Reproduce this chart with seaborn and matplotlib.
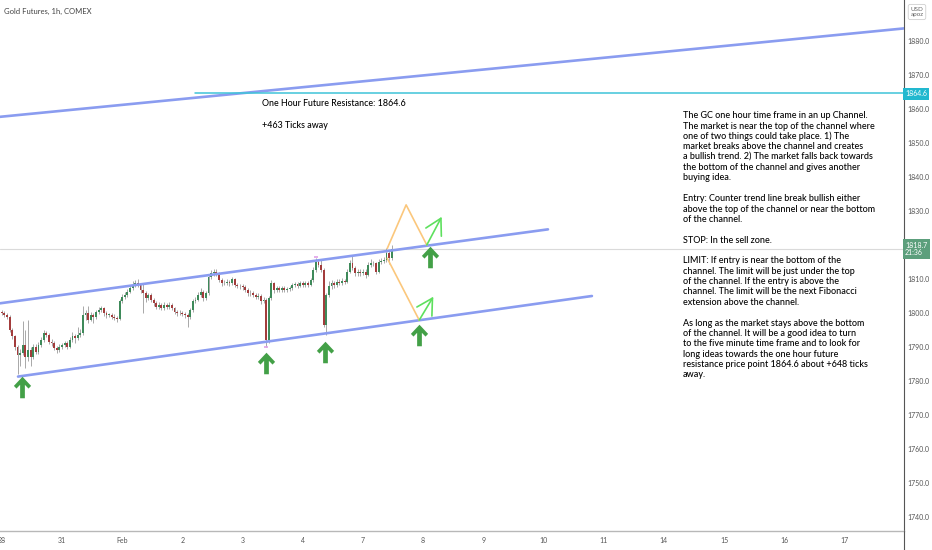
import numpy as np
import pandas as pd
import matplotlib
matplotlib.use("Agg")
import matplotlib.pyplot as plt
import seaborn as sns
from matplotlib.path import Path
from matplotlib.transforms import Affine2D
from matplotlib.lines import Line2D

# ---------------- data ----------------
day_labels = ['28', '31', 'Feb', '2', '3', '4', '7', '8', '9', '10', '11', '14', '15', '16', '17']
bars_per_day = 23

first_open = 1800.3
closes = [1799.9, 1799.4, 1798.9, 1795.0, 1793.1, 1790.1, 1787.7, 1788.2, 1790.6, 1787.2,
          1789.1, 1787.2, 1790.1, 1788.6, 1790.6, 1792.1, 1794.0, 1793.6, 1791.6, 1791.1,
          1789.6, 1789.1, 1790.1, 1790.6, 1791.1, 1790.1, 1792.1, 1793.1, 1792.6, 1793.6,
          1794.0, 1799.4, 1799.9, 1798.0, 1799.4, 1798.9, 1800.4, 1800.9, 1801.4, 1799.9,
          1799.4, 1799.4, 1798.9, 1798.5, 1798.2, 1803.4, 1804.8, 1805.3, 1806.3, 1807.3,
          1808.2, 1808.7, 1808.2, 1806.8, 1805.8, 1804.3, 1805.3, 1803.9, 1802.9, 1801.9,
          1802.4, 1801.4, 1802.4, 1801.9, 1802.4, 1801.4, 1800.4, 1799.9, 1800.1, 1799.7,
          1799.4, 1798.9, 1800.9, 1803.4, 1803.9, 1805.3, 1806.3, 1804.3, 1805.8, 1810.7,
          1811.7, 1812.2, 1811.7, 1809.7, 1808.7, 1808.9, 1809.2, 1808.7, 1809.9, 1808.2,
          1808.0, 1807.8, 1807.6, 1806.8, 1805.8, 1806.0, 1805.3, 1804.8, 1805.0, 1803.4,
          1803.9, 1792.1, 1804.3, 1808.7, 1806.8, 1807.3, 1806.8, 1807.3, 1806.8, 1807.0,
          1807.3, 1808.2, 1808.5, 1808.0, 1808.7, 1808.2, 1808.7, 1808.2, 1809.7, 1812.7,
          1815.1, 1814.1, 1812.7, 1796.5, 1805.3, 1807.8, 1808.7, 1808.2, 1809.2, 1808.9,
          1809.5, 1809.2, 1812.2, 1814.6, 1813.2, 1811.7, 1812.2, 1811.7, 1812.2, 1811.2,
          1814.1, 1814.8, 1814.6, 1812.2, 1815.1, 1815.4, 1815.6, 1817.6, 1816.1, 1818.7]
highs = [1801.0, 1800.6, 1800.0, 1799.3, 1795.6, 1793.6, 1790.6, 1789.5, 1797.6, 1795.0,
         1798.0, 1790.0, 1791.0, 1791.0, 1791.4, 1792.8, 1795.0, 1794.8, 1794.2, 1792.4,
         1791.8, 1790.3, 1790.8, 1791.3, 1791.9, 1791.8, 1792.9, 1794.5, 1793.8, 1796.0,
         1795.2, 1802.0, 1801.0, 1802.2, 1800.2, 1800.0, 1801.0, 1801.8, 1802.1, 1801.9,
         1800.5, 1800.1, 1800.0, 1799.6, 1799.2, 1804.0, 1805.6, 1806.2, 1807.0, 1808.1,
         1809.3, 1809.6, 1809.9, 1808.8, 1808.5, 1806.4, 1806.0, 1805.9, 1804.4, 1803.4,
         1803.1, 1803.0, 1803.2, 1803.0, 1803.1, 1802.9, 1801.9, 1801.0, 1800.8, 1800.7,
         1800.3, 1800.0, 1801.6, 1804.1, 1804.8, 1806.2, 1807.4, 1806.9, 1806.5, 1811.5,
         1812.6, 1813.0, 1812.8, 1812.0, 1810.3, 1809.6, 1810.0, 1809.8, 1810.6, 1810.4,
         1808.9, 1808.6, 1808.4, 1808.1, 1807.4, 1806.8, 1806.6, 1805.9, 1805.8, 1805.5,
         1804.6, 1804.5, 1805.0, 1809.6, 1809.2, 1808.0, 1807.9, 1808.0, 1807.9, 1807.7,
         1808.0, 1808.9, 1809.2, 1809.1, 1809.4, 1809.3, 1809.4, 1809.3, 1810.4, 1813.5,
         1816.3, 1816.0, 1815.6, 1813.3, 1806.0, 1809.5, 1809.6, 1809.5, 1810.0, 1809.9,
         1810.3, 1810.1, 1813.0, 1815.6, 1817.2, 1813.8, 1812.9, 1812.8, 1812.9, 1812.8,
         1814.9, 1815.8, 1815.4, 1815.1, 1815.9, 1816.2, 1816.4, 1819.0, 1818.6, 1820.0]
lows = [1799.3, 1798.8, 1798.2, 1794.5, 1792.4, 1789.0, 1782.2, 1784.5, 1787.5, 1783.8,
        1786.0, 1784.5, 1786.5, 1787.8, 1788.0, 1790.0, 1791.5, 1792.8, 1791.0, 1790.3,
        1789.0, 1788.2, 1788.6, 1789.5, 1790.0, 1789.4, 1789.8, 1791.5, 1791.2, 1792.0,
        1792.8, 1793.5, 1798.0, 1797.2, 1797.5, 1797.0, 1798.3, 1799.8, 1800.2, 1799.2,
        1798.6, 1798.7, 1798.2, 1797.8, 1797.4, 1797.9, 1802.8, 1804.2, 1804.8, 1805.8,
        1806.9, 1807.6, 1807.5, 1806.0, 1799.9, 1803.2, 1803.8, 1803.2, 1802.2, 1801.2,
        1801.3, 1800.8, 1800.9, 1801.2, 1801.2, 1800.8, 1799.7, 1799.2, 1799.3, 1799.0,
        1798.6, 1795.8, 1798.2, 1800.4, 1802.8, 1803.4, 1804.8, 1803.6, 1803.8, 1805.3,
        1810.0, 1811.0, 1810.9, 1809.0, 1808.0, 1808.1, 1808.3, 1808.0, 1808.2, 1807.6,
        1807.3, 1807.1, 1806.9, 1806.1, 1805.1, 1805.1, 1804.6, 1804.0, 1804.1, 1802.6,
        1802.9, 1790.1, 1791.2, 1803.8, 1806.0, 1806.2, 1806.1, 1806.2, 1806.1, 1806.2,
        1806.4, 1806.8, 1807.7, 1807.4, 1807.5, 1807.6, 1807.7, 1807.6, 1807.8, 1809.2,
        1812.2, 1813.5, 1812.0, 1796.0, 1793.5, 1804.6, 1807.0, 1807.4, 1807.6, 1808.2,
        1808.3, 1808.5, 1808.8, 1811.7, 1812.5, 1811.0, 1811.0, 1811.0, 1811.1, 1810.4,
        1810.8, 1813.6, 1813.9, 1811.5, 1811.8, 1814.5, 1814.8, 1815.0, 1814.5, 1815.5]

# drawings (bar index, price)
long_line = [(-0.7, 1857.7), (350.0, 1884.1)]
channel_top = [(-0.7, 1802.85), (208.7, 1824.6)]
channel_bottom = [(6.2, 1781.3), (225.5, 1805.0)]
resistance_price = 1864.6
resistance_start = 73.8
orange_up = [(147.3, 1819.0), (154.5, 1831.8), (162.4, 1820.0)]
orange_down = [(147.3, 1816.1), (159.5, 1797.9)]
light_arrows = [((162.4, 1820.0), (168.1, 1828.3)), ((159.5, 1797.9), (164.9, 1804.8))]
up_arrow_tips = [(7.6, 1781.3), (100.8, 1788.1), (123.5, 1791.6), (159.5, 1796.5), (163.6, 1819.5)]
hi_marker = (120, 1816.4)
lo_marker = (101, 1790.0)
last_price = 1818.7
last_time = '21:36'
y_ticks = [1740, 1750, 1760, 1770, 1780, 1790, 1800, 1810, 1830, 1840, 1850, 1860, 1870, 1880]

note_lines = [
    "The GC one hour time frame in an up Channel.",
    "The market is near the top of the channel where",
    "one of two things could take place. 1) The",
    "market breaks above the channel and creates",
    "a bullish trend. 2) The market falls back towards",
    "the bottom of the channel and gives another",
    "buying idea.",
    "",
    "Entry: Counter trend line break bullish either",
    "above the top of the channel or near the bottom",
    "of the channel.",
    "",
    "STOP: In the sell zone.",
    "",
    "LIMIT: If entry is near the bottom of the",
    "channel. The limit will be just under the top",
    "of the channel. If the entry is above the",
    "channel. The limit will be the next Fibonacci",
    "extension above the channel.",
    "",
    "As long as the market stays above the bottom",
    "of the channel. It will be a good idea to turn",
    "to the five minute time frame and to look for",
    "long ideas towards the one hour future",
    "resistance price point 1864.6 about +648 ticks",
    "away.",
]

# ---------------- figure ----------------
sns.set_theme(style="white")
plt.rcParams['font.family'] = ['Lato', 'DejaVu Sans']

W, H = 932, 550
fig = plt.figure(figsize=(W / 100, H / 100), dpi=100)
fig.patch.set_facecolor('white')
ax = fig.add_axes([0, 19 / H, 904 / W, 531 / H])
ax.set_facecolor('white')
ax.set_xlim(-0.69, 344.75)
ax.set_ylim(1735.88, 1892.06)

pix = Affine2D().scale(1, -1).translate(0, H)   # image pixel coords (y down)

# candles
n = len(closes)
idx = np.arange(n)
opens = [first_open] + closes[:-1]
df = pd.DataFrame({'bar': idx, 'open': opens, 'close': closes, 'high': highs, 'low': lows})
df['up'] = df['close'] >= df['open']
body_h = (df['close'] - df['open']).abs().clip(lower=0.18)
body_b = df[['open', 'close']].min(axis=1)
ax.vlines(df['bar'], df['low'], df['high'], color='#a8a8a8', lw=0.7, zorder=2)
ax.bar(df['bar'], body_h, bottom=body_b, width=0.72,
       color=np.where(df['up'], '#3e8a5a', '#a33c3c'), linewidth=0, zorder=3)

# high/low markers (small)
ax.plot([hi_marker[0]], [hi_marker[1]], marker='_', ms=3.5, mew=1.2, color='#e0a0e6', zorder=4)
ax.plot([lo_marker[0]], [lo_marker[1]], marker='_', ms=3.5, mew=1.2, color='#e0a0e6', zorder=4)

# current price line
ax.axhline(last_price, color='#dadada', lw=0.8, zorder=1)


def seg(points, **kw):
    d = pd.DataFrame(points, columns=['x', 'y'])
    sns.lineplot(data=d, x='x', y='y', ax=ax, sort=False, estimator=None, legend=False, **kw)


blue = '#8a9cf0'
seg(long_line, color=blue, lw=1.9, zorder=5)
seg(channel_top, color=blue, lw=1.9, zorder=5)
seg(channel_bottom, color=blue, lw=1.9, zorder=5)
seg([(resistance_start, resistance_price), (350, resistance_price)], color='#3fc4d8', lw=1.1, zorder=5)
seg(orange_up, color='#fbc77c', lw=1.2, zorder=6)
seg(orange_down, color='#fbc77c', lw=1.2, zorder=6)

for (s, e) in light_arrows:
    ax.annotate('', xy=e, xytext=s,
                arrowprops=dict(arrowstyle='->,head_length=0.75,head_width=0.42',
                                color='#5ee05e', lw=1.2, mutation_scale=15,
                                shrinkA=0, shrinkB=0), zorder=7)

# thick up arrows (custom marker, tip at top)
arrow_path = Path([(0, 1), (0.8, 0.15), (0.56, -0.1), (0.22, 0.25), (0.22, -1), (-0.22, -1),
                   (-0.22, 0.25), (-0.56, -0.1), (-0.8, 0.15), (0, 1)], closed=True)
px_per_price = 3.4
for (bx, py) in up_arrow_tips:
    ax.plot([bx], [py - 10 / px_per_price], marker=arrow_path, ms=15.5,
            color='#43a047', mec='#43a047', mew=0, zorder=8)

# text annotations
txt_kw = dict(transform=pix, color='#000000', va='center', ha='left', fontweight='medium')
ax.text(262, 104, 'One Hour Future Resistance: 1864.6', fontsize=6.4, **txt_kw)
ax.text(262, 125, '+463 Ticks away', fontsize=6.4, **txt_kw)
for i, line in enumerate(note_lines):
    if line:
        ax.text(683, 115.7 + i * 10.37, line, fontsize=6.45, **txt_kw)

# axes styling
for sp in ['top', 'left']:
    ax.spines[sp].set_visible(False)
ax.spines['right'].set_color('#555555')
ax.spines['right'].set_linewidth(0.8)
ax.spines['bottom'].set_color('#b8b8b8')
ax.spines['bottom'].set_linewidth(1.0)
ax.yaxis.tick_right()
ax.set_yticks(y_ticks)
ax.set_yticklabels([f'{v:.1f}' for v in y_ticks])
ax.tick_params(axis='y', length=0, pad=2.5, labelsize=5, labelcolor='#555555')
ax.set_xticks([k * bars_per_day for k in range(len(day_labels))])
ax.set_xticklabels(day_labels)
ax.tick_params(axis='x', length=0, pad=4, labelsize=5, labelcolor='#555555')
ax.set_xlabel('')
ax.set_ylabel('')
ax.grid(False)

# axis extension line below plot
fig.add_artist(Line2D([904 / W, 904 / W], [0, 19 / H], color='#555555', lw=0.8))

# price labels on right axis
ax.text(905, 94, '1864.6', transform=pix, fontsize=5, color='white', va='center', ha='left',
        bbox=dict(boxstyle='square,pad=0.3', fc='#22b8cf', ec='none'), zorder=10, clip_on=False)
ax.text(905, 249, f'{last_price:.1f}\n{last_time}', transform=pix, fontsize=5, color='white',
        va='center', ha='left', linespacing=1.1,
        bbox=dict(boxstyle='square,pad=0.35', fc='#5c9f7c', ec='none'), zorder=10, clip_on=False)
ax.text(917, 12, 'USD\napoz', transform=pix, fontsize=4.5, color='#666666', va='center',
        ha='center', linespacing=1.2,
        bbox=dict(boxstyle='round,pad=0.35,rounding_size=0.3', fc='white', ec='#cfcfcf', lw=0.6),
        zorder=10, clip_on=False)

fig.text(4 / W, 1 - 11 / H, 'Gold Futures, 1h, COMEX', fontsize=5.5, color='#444444',
         va='center', ha='left')

fig.savefig('out.png', dpi=100, facecolor='white')
